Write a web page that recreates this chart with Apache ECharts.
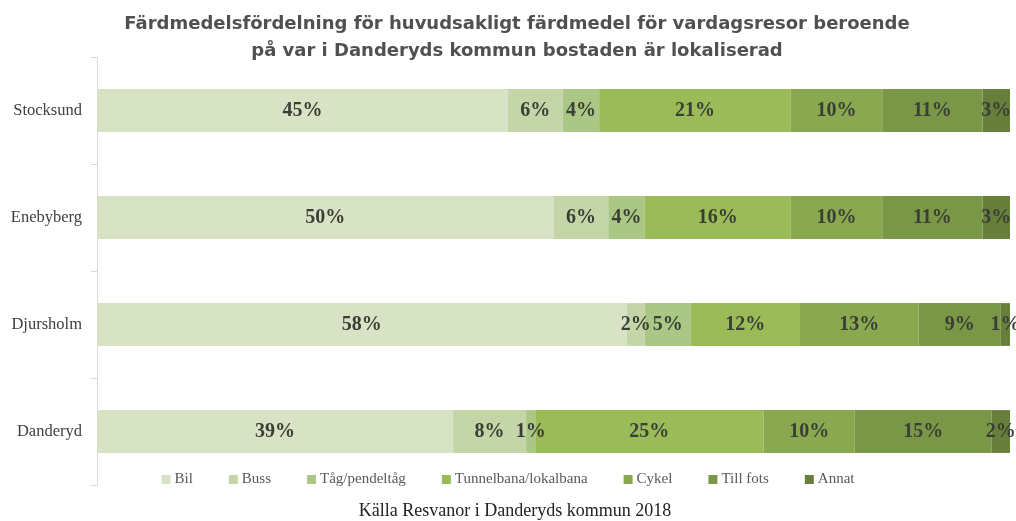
<!DOCTYPE html>
<html><head><meta charset="utf-8">
<script src="https://cdn.jsdelivr.net/npm/echarts@6/dist/echarts.min.js"></script>
<style>html,body{margin:0;padding:0;background:#fff}#c{width:1016px;height:521px}</style>
</head><body><div id="c"></div>
<script>
const categories = ['Stocksund', 'Enebyberg', 'Djursholm', 'Danderyd'];
const seriesNames = ['Bil', 'Buss', 'Tåg/pendeltåg', 'Tunnelbana/lokalbana', 'Cykel', 'Till fots', 'Annat'];
const bil = [45, 50, 58, 39];
const buss = [6, 6, 2, 8];
const tag = [4, 4, 5, 1];
const tunnelbana = [21, 16, 12, 25];
const cykel = [10, 10, 13, 10];
const tillFots = [11, 11, 9, 15];
const annat = [3, 3, 1, 2];
const values = [bil, buss, tag, tunnelbana, cykel, tillFots, annat];
const colors = ['#d8e3c6', '#c4d6a8', '#abc785', '#9bbb59', '#8aa84f', '#7a9647', '#677f3b'];

const chart = echarts.init(document.getElementById('c'));
chart.setOption({
  animation: false,
  color: colors,
  title: [{
    text: 'Färdmedelsfördelning för huvudsakligt färdmedel för vardagsresor beroende\npå var i Danderyds kommun bostaden är lokaliserad',
    left: 512, top: 6, textAlign: 'center',
    textStyle: { fontFamily: 'DejaVu Sans', fontWeight: 'bold', fontSize: 18, color: '#505050', lineHeight: 27 }
  }, {
    text: 'Källa Resvanor i Danderyds kommun 2018',
    left: 510, top: 497, textAlign: 'center',
    textStyle: { fontFamily: 'Liberation Serif, Times New Roman', fontWeight: 'normal', fontSize: 18, color: '#222' }
  }],
  legend: {
    data: seriesNames, left: 'center', top: 467, itemWidth: 9, itemHeight: 9, itemGap: 36, icon: 'rect',
    textStyle: { fontFamily: 'Liberation Serif, Times New Roman', fontSize: 15, color: '#595959', padding: [0, 0, 0, -1] }
  },
  grid: { left: 97, right: 6, top: 57, bottom: 36, containLabel: false },
  xAxis: { type: 'value', min: 0, max: 100, show: false },
  yAxis: {
    type: 'category', data: categories, inverse: true,
    axisLine: { lineStyle: { color: '#d9d9d9' } },
    axisTick: { show: true, length: 6, lineStyle: { color: '#d9d9d9' } },
    axisLabel: { fontFamily: 'Liberation Serif, Times New Roman', fontSize: 16.5, color: '#404040', margin: 15 }
  },
  series: seriesNames.map((n, i) => ({
    name: n, type: 'bar', stack: 'total', barWidth: '40%', data: values[i],
    label: { show: true, position: 'inside', formatter: '{c}%', fontFamily: 'Liberation Serif, Times New Roman', fontWeight: 'bold', fontSize: 20, color: '#3a3f35' }
  }))
});
</script></body></html>
